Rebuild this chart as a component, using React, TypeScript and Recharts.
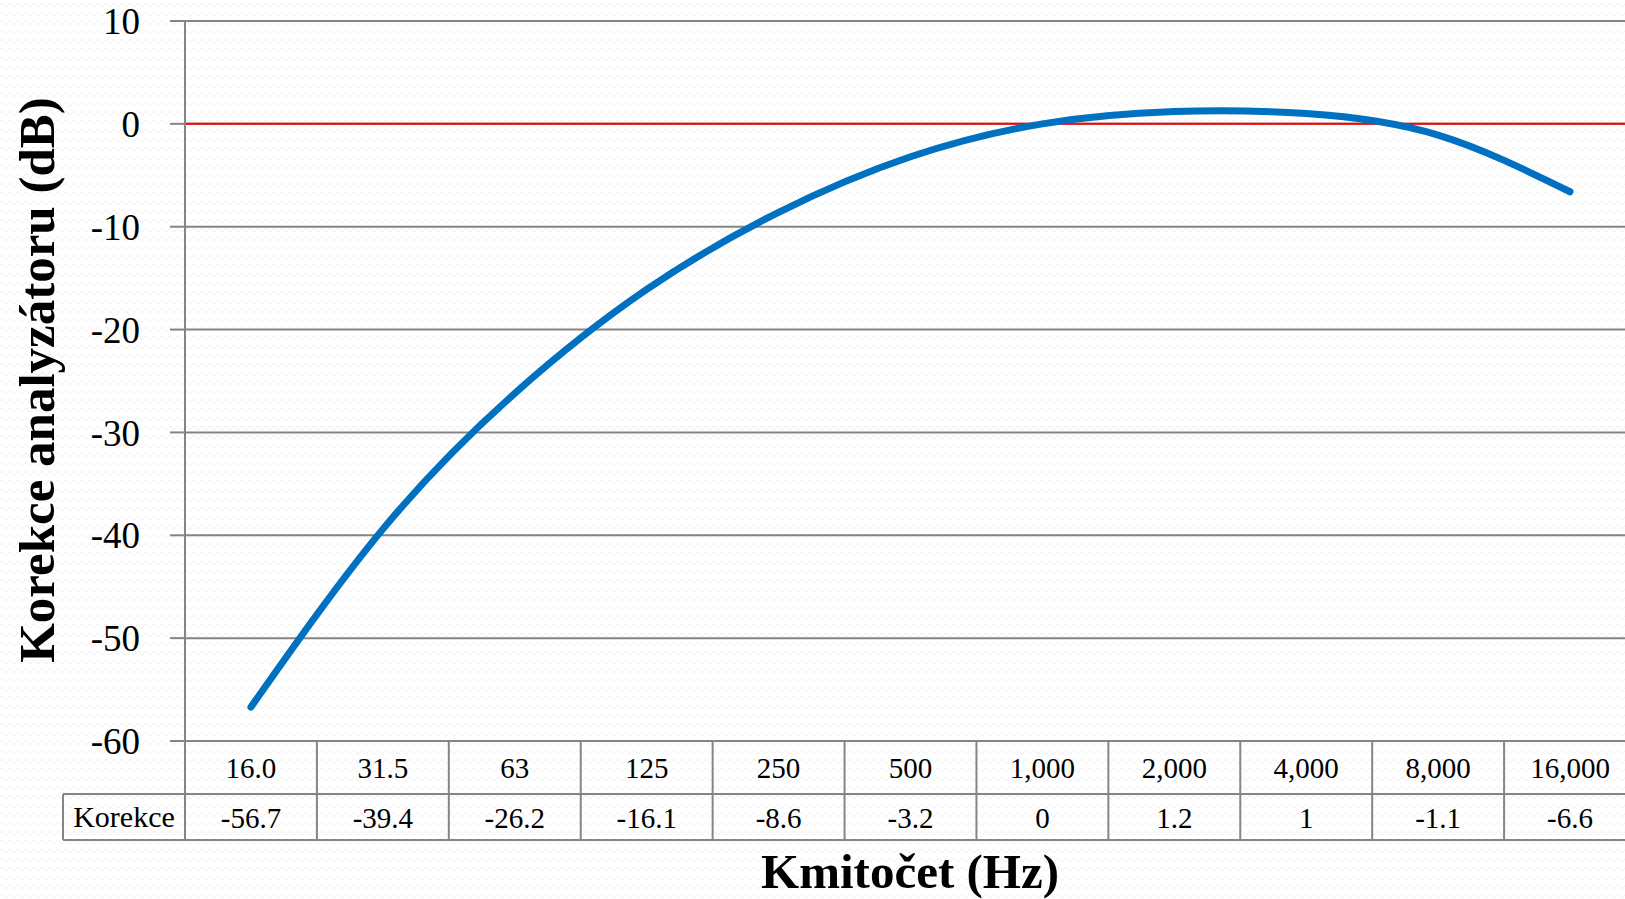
import React from "react";
import { CartesianGrid, Customized, Line, LineChart, ReferenceLine, XAxis, YAxis } from "recharts";

// frequency bands (Hz) and analyser correction (dB)
const categories = ["16.0", "31.5", "63", "125", "250", "500", "1,000", "2,000", "4,000", "8,000", "16,000"];
const korekce = [-56.7, -39.4, -26.2, -16.1, -8.6, -3.2, 0, 1.2, 1, -1.1, -6.6];
const yTicks = [10, 0, -10, -20, -30, -40, -50, -60];

const data = categories.map((f, i) => ({ f, korekce: korekce[i] }));

const W = 1640;
const H = 899;
const LEFT = 185;
const TOP = 21;
const RIGHT_EDGE = 1636;
const PLOT_BOTTOM = 741;
const ROW2 = 794;
const TABLE_BOTTOM = 840;
const CW = (RIGHT_EDGE - LEFT) / categories.length;

const GRID = "#858585";
const FONT = "'Liberation Serif', 'Times New Roman', serif";

const bg =
  "url(\"data:image/svg+xml;utf8,<svg xmlns='http://www.w3.org/2000/svg' width='8' height='9'><path d='M0 5 Q2 1 4 5 T8 5' fill='none' stroke='%23efefef' stroke-width='1'/></svg>\")";

function TableTick(props: any) {
  const { x, payload, index } = props;
  const right = x + CW / 2;
  return (
    <g>
      <line x1={right} y1={PLOT_BOTTOM} x2={right} y2={TABLE_BOTTOM} stroke={GRID} strokeWidth={2} />
      <text x={x} y={768} textAnchor="middle" dominantBaseline="central" fontFamily={FONT} fontSize={29} fill="#000">
        {payload.value}
      </text>
      <text x={x} y={818} textAnchor="middle" dominantBaseline="central" fontFamily={FONT} fontSize={29} fill="#000">
        {String(korekce[index])}
      </text>
    </g>
  );
}

function Extras() {
  return (
    <g>
      {/* table frame */}
      <line x1={63} y1={ROW2} x2={RIGHT_EDGE} y2={ROW2} stroke={GRID} strokeWidth={2} />
      <line x1={63} y1={TABLE_BOTTOM} x2={RIGHT_EDGE} y2={TABLE_BOTTOM} stroke={GRID} strokeWidth={2} />
      <line x1={63} y1={ROW2} x2={63} y2={TABLE_BOTTOM} stroke={GRID} strokeWidth={2} />
      <line x1={LEFT} y1={TOP} x2={LEFT} y2={TABLE_BOTTOM} stroke={GRID} strokeWidth={2} />
      <text x={124} y={816} textAnchor="middle" dominantBaseline="central" fontFamily={FONT} fontSize={30} fill="#000">
        Korekce
      </text>
      {/* axis titles */}
      <text x={910} y={871} textAnchor="middle" dominantBaseline="central" fontFamily={FONT} fontWeight="bold" fontSize={49} fill="#000">
        Kmitočet (Hz)
      </text>
      <text
        x={37}
        y={380}
        textAnchor="middle"
        dominantBaseline="central"
        transform="rotate(-90 37 380)"
        fontFamily={FONT}
        fontWeight="bold"
        fontSize={51}
        fill="#000"
      >
        Korekce analyzátoru (dB)
      </text>
    </g>
  );
}

export default function App() {
  return (
    <div
      style={{
        position: "absolute",
        left: 0,
        top: 0,
        width: 1625,
        height: H,
        overflow: "hidden",
        backgroundColor: "#fff",
        backgroundImage: bg,
      }}
    >
      <LineChart width={W} height={H} data={data} margin={{ top: TOP, right: W - RIGHT_EDGE, bottom: 0, left: 0 }}>
        <CartesianGrid horizontal vertical={false} stroke={GRID} strokeWidth={2} />
        <XAxis
          dataKey="f"
          interval={0}
          height={H - PLOT_BOTTOM}
          padding={{ left: CW / 2, right: CW / 2 }}
          tickLine={false}
          axisLine={{ stroke: GRID, strokeWidth: 2 }}
          tick={<TableTick />}
        />
        <YAxis
          width={LEFT}
          domain={[-60, 10]}
          ticks={yTicks}
          interval={0}
          tickSize={15}
          tickMargin={30}
          axisLine={{ stroke: GRID, strokeWidth: 2 }}
          tickLine={{ stroke: GRID, strokeWidth: 2 }}
          tick={{ fontFamily: FONT, fontSize: 37, fill: "#000" }}
        />
        <ReferenceLine y={0} stroke="#ff0000" strokeWidth={2} />
        <Line
          type="natural"
          dataKey="korekce"
          stroke="#0070c0"
          strokeWidth={7}
          strokeLinecap="round"
          dot={false}
          activeDot={false}
          isAnimationActive={false}
        />
        <Customized component={<Extras />} />
      </LineChart>
    </div>
  );
}
